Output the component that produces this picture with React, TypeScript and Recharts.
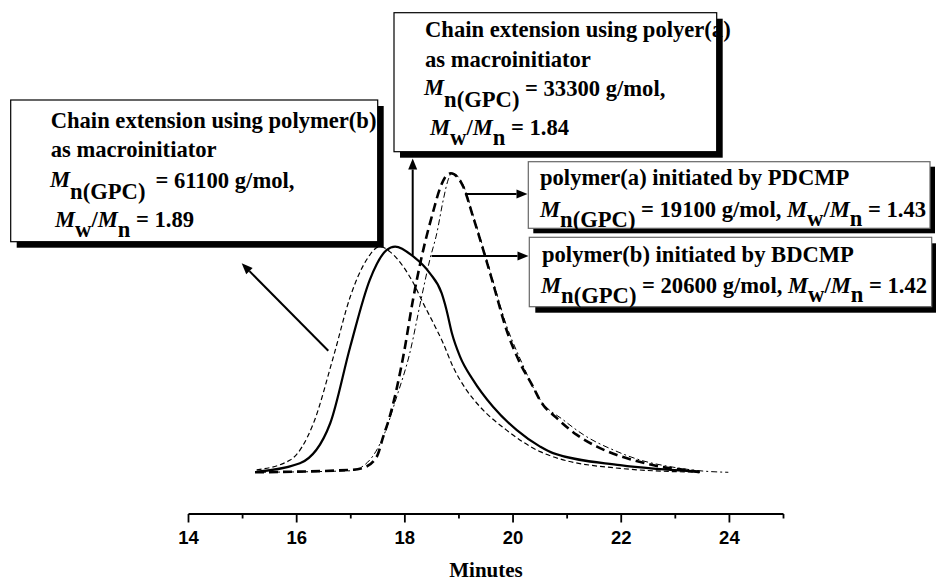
import { Line, LineChart, XAxis, YAxis } from "recharts";

// elution time axis (minutes)
const xTicks = [14, 15, 16, 17, 18, 19, 20, 21, 22, 23, 24, 25];
const labelledTicks = [14, 16, 18, 20, 22, 24];

// chain extension, solid line
const extATime = [15.26, 16.06, 16.62, 16.99, 17.35, 17.66, 17.82, 18.16, 18.46, 18.68, 18.77, 18.87, 19.02, 19.26, 19.63, 20.07, 20.5, 20.74, 21.98, 23.45];
const extAValue = [0.002, 0.03, 0.164, 0.42, 0.643, 0.743, 0.755, 0.721, 0.666, 0.599, 0.543, 0.465, 0.387, 0.309, 0.219, 0.141, 0.086, 0.064, 0.024, 0.002];

// chain extension, thin short dashes
const extBTime = [15.26, 15.88, 16.31, 16.68, 16.99, 17.29, 17.54, 17.72, 17.97, 18.16, 18.34, 18.53, 18.71, 18.89, 19.14, 19.39, 19.88, 20.5, 20.74, 21.98, 23.45];
const extBValue = [0.008, 0.041, 0.164, 0.387, 0.587, 0.71, 0.755, 0.738, 0.688, 0.632, 0.565, 0.498, 0.431, 0.353, 0.275, 0.219, 0.141, 0.069, 0.052, 0.013, 0];

// polymer(a), bold dashes
const polyATime = [15.23, 16.99, 17.23, 17.48, 17.6, 17.72, 17.97, 18.16, 18.31, 18.52, 18.65, 18.77, 18.85, 19.08, 19.26, 19.45, 19.63, 19.88, 20.13, 20.37, 20.5, 20.81, 21.18, 21.55, 21.92, 22.28, 22.72, 23.33, 23.45];
const polyAValue = [0, 0.008, 0.015, 0.052, 0.119, 0.186, 0.387, 0.587, 0.72, 0.87, 0.95, 0.993, 1.0, 0.955, 0.855, 0.743, 0.632, 0.476, 0.365, 0.286, 0.24, 0.181, 0.125, 0.086, 0.058, 0.038, 0.019, 0.004, 0];

// polymer(b), thin dash-dot
const polyBTime = [15.23, 16.99, 17.35, 17.6, 17.85, 18.09, 18.31, 18.46, 18.59, 18.71, 18.8, 18.87, 19.08, 19.26, 19.45, 19.63, 19.88, 20.13, 20.5, 20.93, 21.36, 21.85, 22.35, 22.9, 23.52, 23.98];
const polyBValue = [0, 0.005, 0.041, 0.119, 0.253, 0.398, 0.587, 0.71, 0.799, 0.911, 0.978, 1.0, 0.96, 0.86, 0.75, 0.64, 0.49, 0.38, 0.243, 0.175, 0.119, 0.075, 0.041, 0.019, 0.004, 0];

const zip = (t: number[], v: number[]) => t.map((x, i) => ({ t: x, v: v[i] }));

const serif = "'Liberation Serif', 'Times New Roman', serif";
const sans = "'Liberation Sans', Arial, sans-serif";

function MinuteTick(props: any) {
  const { x, y, payload } = props;
  const major = labelledTicks.includes(payload.value);
  return (
    <g>
      <line x1={x} x2={x} y1={y} y2={y + (major ? 8.5 : 4.5)} stroke="#000" strokeWidth={1.8} />
      {major ? (
        <text x={x} y={y + 29.5} textAnchor="middle" fontFamily={sans} fontWeight="bold" fontSize={18.5} fill="#000">
          {payload.value}
        </text>
      ) : null}
    </g>
  );
}

function Arrow({ x1, y1, x2, y2 }: { x1: number; y1: number; x2: number; y2: number }) {
  const len = Math.hypot(x2 - x1, y2 - y1);
  const ux = (x2 - x1) / len;
  const uy = (y2 - y1) / len;
  const hl = 11;
  const hw = 4.5;
  const bx = x2 - ux * hl;
  const by = y2 - uy * hl;
  return (
    <g>
      <line x1={x1} y1={y1} x2={bx} y2={by} stroke="#000" strokeWidth={2} />
      <polygon
        points={`${x2},${y2} ${bx - uy * hw},${by + ux * hw} ${bx + uy * hw},${by - ux * hw}`}
        fill="#000"
      />
    </g>
  );
}

function Box({ x, y, w, h, off, stroke }: { x: number; y: number; w: number; h: number; off: number; stroke: string }) {
  return (
    <g>
      <rect x={x + off} y={y + off} width={w} height={h} fill="#000" />
      <rect x={x} y={y} width={w} height={h} fill="#fff" stroke={stroke} strokeWidth={1.2} />
    </g>
  );
}

function Annotations() {
  const t = { fontFamily: serif, fontWeight: "bold" as const, fontSize: 22.6, fill: "#000" };
  return (
    <svg width={936} height={583} style={{ position: "absolute", left: 0, top: 0, pointerEvents: "none" }}>
      <Arrow x1={328.3} y1={350.7} x2={241.7} y2={263.3} />
      <Arrow x1={412.7} y1={255} x2={412.7} y2={158.5} />
      <Arrow x1={465} y1={194} x2={527.5} y2={194} />
      <Arrow x1={431.7} y1={256} x2={528.5} y2={256} />

      <Box x={10.7} y={100} w={367} h={141.7} off={6} stroke="#000" />
      <text {...t} x={50.7} y={128}>Chain extension using polymer(b)</text>
      <text {...t} x={50.7} y={157}>as macroinitiator</text>
      <text {...t} x={50} y={187}>
        <tspan fontStyle="italic">M</tspan>
        <tspan dy={12}>n(GPC)</tspan>
        <tspan dx={10} dy={-11}>= 61100 g/mol,</tspan>
      </text>
      <text {...t} x={55} y={227}>
        <tspan fontStyle="italic">M</tspan>
        <tspan dy={10}>w</tspan>
        <tspan dy={-10}>/</tspan>
        <tspan fontStyle="italic">M</tspan>
        <tspan dy={10}>n</tspan>
        <tspan dy={-10}> = 1.89</tspan>
      </text>

      <Box x={394} y={12.7} w={322.7} h={139} off={6} stroke="#000" />
      <text {...t} x={425} y={37.3}>Chain extension using polyer(a)</text>
      <text {...t} x={425} y={66.7}>as macroinitiator</text>
      <text {...t} x={424} y={95}>
        <tspan fontStyle="italic">M</tspan>
        <tspan dy={11.5}>n(GPC)</tspan>
        <tspan dy={-11}> = 33300 g/mol,</tspan>
      </text>
      <text {...t} x={430} y={135}>
        <tspan fontStyle="italic">M</tspan>
        <tspan dy={10}>w</tspan>
        <tspan dy={-10}>/</tspan>
        <tspan fontStyle="italic">M</tspan>
        <tspan dy={10}>n</tspan>
        <tspan dy={-10}> = 1.84</tspan>
      </text>

      <Box x={528.3} y={161.7} w={401.7} h={66.6} off={5} stroke="#666" />
      <text {...t} x={540} y={185}>polymer(a) initiated by PDCMP</text>
      <text {...t} x={540} y={216.7}>
        <tspan fontStyle="italic">M</tspan>
        <tspan dy={10}>n(GPC)</tspan>
        <tspan dy={-10}> = 19100 g/mol, </tspan>
        <tspan fontStyle="italic">M</tspan>
        <tspan dy={9}>w</tspan>
        <tspan dy={-9}>/</tspan>
        <tspan fontStyle="italic">M</tspan>
        <tspan dy={9}>n</tspan>
        <tspan dy={-9}> = 1.43</tspan>
      </text>

      <Box x={529.3} y={237.3} w={402.4} h={69.4} off={6} stroke="#666" />
      <text {...t} x={542} y={261.7}>polymer(b) initiated by BDCMP</text>
      <text {...t} x={541} y={293.3}>
        <tspan fontStyle="italic">M</tspan>
        <tspan dy={10}>n(GPC)</tspan>
        <tspan dy={-10}> = 20600 g/mol, </tspan>
        <tspan fontStyle="italic">M</tspan>
        <tspan dy={9}>w</tspan>
        <tspan dy={-9}>/</tspan>
        <tspan fontStyle="italic">M</tspan>
        <tspan dy={9}>n</tspan>
        <tspan dy={-9}> = 1.42</tspan>
      </text>
    </svg>
  );
}

export default function App() {
  return (
    <div style={{ position: "absolute", left: 0, top: 0, width: 936, height: 583, background: "#fff" }}>
      <LineChart width={936} height={583} margin={{ top: 14, right: 152.5, bottom: 0, left: 188.5 }}>
        <XAxis
          type="number"
          dataKey="t"
          domain={[14, 25]}
          ticks={xTicks}
          interval={0}
          allowDataOverflow
          height={69}
          tickSize={0}
          tickMargin={0}
          tickLine={false}
          axisLine={{ stroke: "#000", strokeWidth: 1.8 }}
          tick={(p: any) => <MinuteTick {...p} />}
          label={{
            value: "Minutes",
            position: "insideBottom",
            offset: 6,
            fill: "#000",
            fontFamily: serif,
            fontWeight: "bold",
            fontSize: 21,
          }}
        />
        <YAxis hide type="number" domain={[-0.1395, 1.5328]} allowDataOverflow />
        <Line data={zip(extBTime, extBValue)} dataKey="v" type="monotone" stroke="#000" strokeWidth={1.2} strokeDasharray="5 3" dot={false} activeDot={false} isAnimationActive={false} />
        <Line data={zip(polyBTime, polyBValue)} dataKey="v" type="monotone" stroke="#000" strokeWidth={1} strokeDasharray="6 3 2 3" dot={false} activeDot={false} isAnimationActive={false} />
        <Line data={zip(polyATime, polyAValue)} dataKey="v" type="monotone" stroke="#000" strokeWidth={2.6} strokeDasharray="9 5" dot={false} activeDot={false} isAnimationActive={false} />
        <Line data={zip(extATime, extAValue)} dataKey="v" type="monotone" stroke="#000" strokeWidth={2.2} dot={false} activeDot={false} isAnimationActive={false} />
      </LineChart>
      <Annotations />
    </div>
  );
}
